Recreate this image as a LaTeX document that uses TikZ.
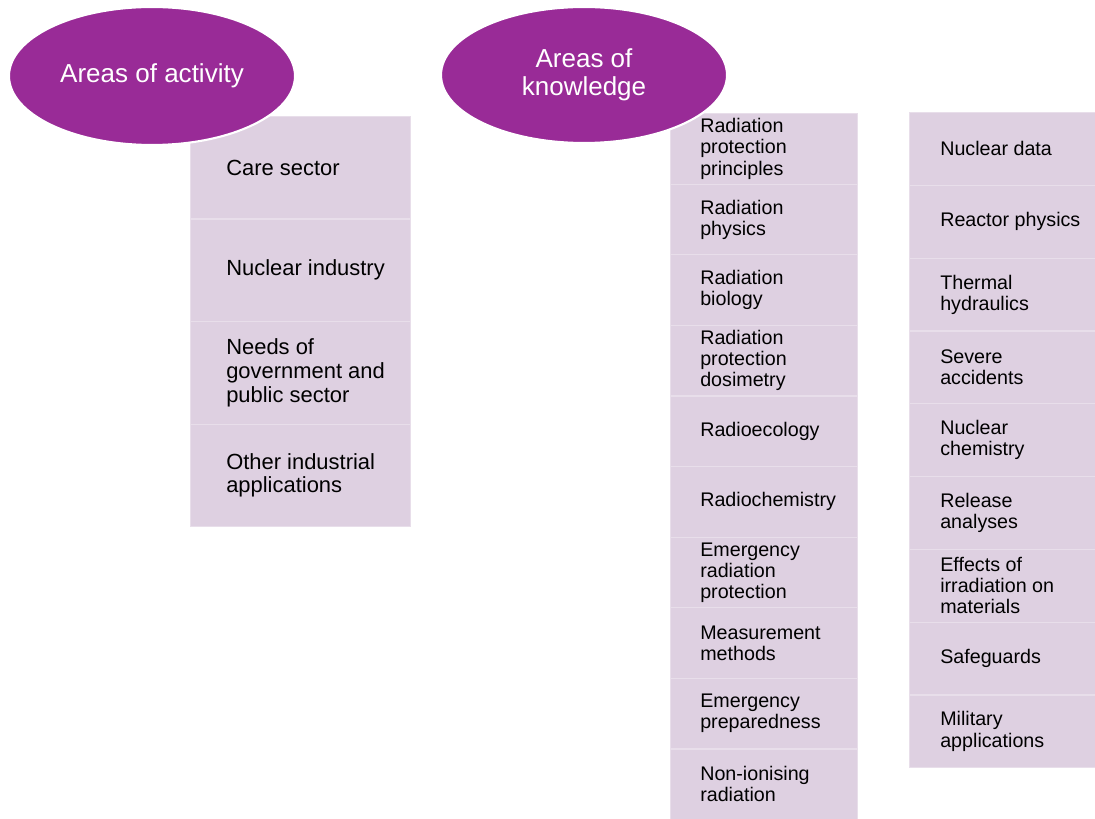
\documentclass[tikz,border=0pt]{standalone}
\usepackage{fontspec}
\setmainfont{Liberation Sans}
\usetikzlibrary{shapes.geometric}
\definecolor{plum}{RGB}{153,43,151}
\definecolor{lilac}{RGB}{222,208,225}
\def\unitpx{0.025cm}

\tikzset{
	bubble/.style={ellipse, fill=plum, draw=white, line width=1.5pt, text=white, align=center,
		inner sep=0pt, font=\fontsize{18.5}{20}\selectfont},
	card/.style={rectangle, fill=lilac, draw=lilac!70!white, line width=0.8pt, inner sep=0pt, anchor=north west},
	cardtext/.style={anchor=west, align=left, inner sep=0pt, font=\fontsize{14}{15}\selectfont},
}

\begin{document}
\begin{tikzpicture}[x=\unitpx, y=-\unitpx]
			%%%%% START %%%%%
			\useasboundingbox (0,0) rectangle (1095,819);
			
			% areas of activity
			\foreach \t [count=\i from 0] in {Care sector, Nuclear industry, {Needs of\\government and\\public sector}, {Other industrial\\applications}} {
				\node[card, minimum width=220*\unitpx, minimum height=102.5*\unitpx] (act-\i) at (190, {116+102.5*\i}) {};
				\node[cardtext, font=\fontsize{15.6}{17}\selectfont] (act-\i-t) at ([xshift=36*\unitpx]act-\i.west) {\t};
			}
			
			% areas of knowledge, first column
			\foreach \t [count=\i from 0] in {{Radiation\\protection\\principles}, {Radiation\\physics}, {Radiation\\biology}, {Radiation\\protection\\dosimetry}, Radioecology, Radiochemistry, {Emergency\\radiation\\protection}, {Measurement\\methods}, {Emergency\\preparedness}, {Non-ionising\\radiation}} {
				\node[card, minimum width=187*\unitpx, minimum height=70.6*\unitpx] (kn-\i) at (670, {113+70.6*\i}) {};
				\node[cardtext] (kn-\i-t) at ([xshift=30*\unitpx]kn-\i.west) {\t};
			}
			
			% areas of knowledge, second column
			\foreach \t [count=\i from 0] in {Nuclear data, Reactor physics, {Thermal\\hydraulics}, {Severe\\accidents}, {Nuclear\\chemistry}, {Release\\analyses}, {Effects of\\irradiation on\\materials}, Safeguards, {Military\\applications}} {
				\node[card, minimum width=186*\unitpx, minimum height=72.8*\unitpx] (nu-\i) at (909, {112+72.8*\i}) {};
				\node[cardtext] (nu-\i-t) at ([xshift=31*\unitpx]nu-\i.west) {\t};
			}
			
			% headings on top
			\node[bubble, minimum width=286*\unitpx, minimum height=138*\unitpx] (activity) at (152, 76) {Areas of activity};
			\node[bubble, minimum width=286*\unitpx, minimum height=136*\unitpx] (knowledge) at (584, 75) {Areas of\\knowledge};
			
			%%%%% END %%%%%
\end{tikzpicture}
\end{document}
